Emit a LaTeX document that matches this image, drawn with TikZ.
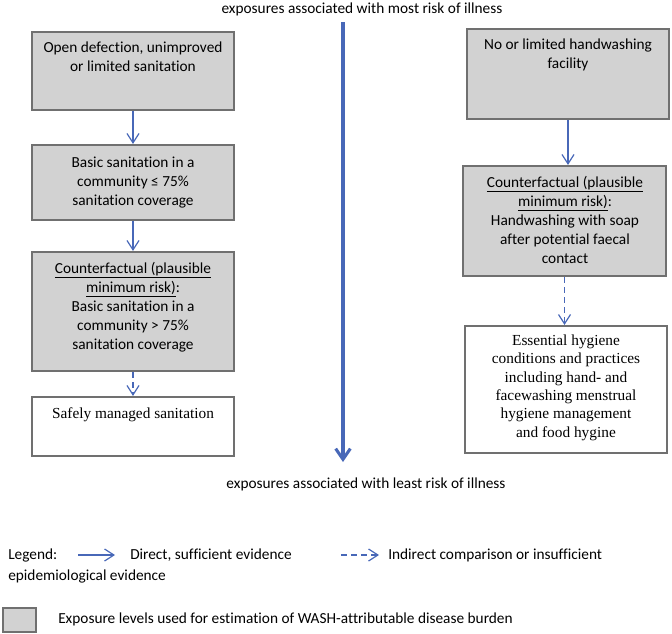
\documentclass[tikz,border=0pt]{standalone}
\usepackage{fontspec}
\setmainfont{Carlito}[Ligatures=NoCommon]
\newfontfamily\serifx{Liberation Serif}
\usetikzlibrary{arrows.meta,fit}
\definecolor{arrowblue}{RGB}{72,104,184}
\definecolor{boxgray}{RGB}{210,210,210}
\definecolor{edgegray}{RGB}{112,112,112}
\tikzset{
  graybox/.style={draw=edgegray, line width=1.6pt, fill=boxgray, inner sep=0pt},
  whitebox/.style={draw=edgegray, line width=1.6pt, fill=white, inner sep=0pt},
  sanstxt/.style={font=\fontsize{11.5}{14.25}\selectfont, align=center, anchor=base, inner sep=0pt},
  seriftxt/.style={font=\serifx\fontsize{11.5}{13.7}\selectfont, align=center, anchor=base, inner sep=0pt},
  plaintxt/.style={font=\fontsize{11.5}{14.25}\selectfont, anchor=base west, inner sep=0pt},
  solidarrow/.style={draw=arrowblue, line width=0.9pt, -{Straight Barb[length=7pt,width=9pt]}},
  dasharrow/.style={draw=arrowblue, line width=0.9pt, dash pattern=on 4.5pt off 3pt, -{Straight Barb[length=7pt,width=9pt]}},
  mainarrow/.style={draw=arrowblue, line width=2.3pt, -{Straight Barb[length=8pt,width=11pt]}},
}
\begin{document}
\begin{tikzpicture}[x=0.75pt,y=-0.75pt]
\useasboundingbox (0,0) rectangle (672,633);

% top / bottom labels
\node[sanstxt] (toplab) at (362,13) {exposures associated with most risk of illness};
\node[sanstxt] (botlab) at (366,488) {exposures associated with least risk of illness};

% central arrow
\coordinate (mtop) at (343,22);
\coordinate (mbot) at (343,462);
\draw[mainarrow] (mtop) -- (mbot);

% left column (text anchors are the baseline of the last line)
\node[graybox, fit={(32,32) (234,110)}] (b1) {};
\node[sanstxt] (b1t) at (133,71) {Open defection, unimproved\\or limited sanitation};
\node[graybox, fit={(32,145) (234,220)}] (b2) {};
\node[sanstxt] (b2t) at (133,205) {Basic sanitation in a\\community ≤ 75\%\\sanitation coverage};
\node[graybox, fit={(32,252) (234,371)}] (b3) {};
\node[sanstxt] (b3t) at (133,349) {\underline{Counterfactual (plausible}\\\underline{minimum risk)}:\\Basic sanitation in a\\community > 75\%\\sanitation coverage};
\node[whitebox, fit={(32,397) (234,456)}] (b4) {};
\node[seriftxt] (b4t) at (133,418) {Safely managed sanitation};

\draw[solidarrow] (b1.south) -- (b2.north);
\draw[solidarrow] (b2.south) -- (b3.north);
\draw[dasharrow] (b3.south) -- (b4.north);

% right column
\node[graybox, fit={(467,29) (669,119)}] (r1) {};
\node[sanstxt] (r1t) at (568,68) {No or limited handwashing\\facility};
\node[graybox, fit={(463,166) (666,276)}] (r2) {};
\node[sanstxt] (r2t) at (565,263) {\underline{Counterfactual (plausible}\\\underline{minimum risk)}:\\Handwashing with soap\\after potential faecal\\contact};
\node[whitebox, fit={(465,326) (667,453)}] (r3) {};
\node[seriftxt] (r3t) at (566,437) {Essential hygiene\\conditions and practices\\including hand- and\\facewashing menstrual\\hygiene management\\and food hygine};

\draw[solidarrow] (r1.south) -- (r1.south |- r2.north);
\draw[dasharrow] (r2.south) -- (r2.south |- r3.north);

% legend
\node[plaintxt] (leg) at (8,559) {Legend:};
\coordinate (l1a) at (78,555);
\coordinate (l1b) at (115,555);
\draw[solidarrow] (l1a) -- (l1b);
\node[plaintxt] (leg1) at (130,559) {Direct, sufficient evidence};
\coordinate (l2a) at (341,555);
\coordinate (l2b) at (379,555);
\draw[dasharrow] (l2a) -- (l2b);
\node[plaintxt] (leg2) at (388,559) {Indirect comparison or insufficient};
\node[plaintxt] (leg3) at (8,580) {epidemiological evidence};
\node[graybox, fit={(3,608) (36,632)}] (legbox) {};
\node[plaintxt] (leg4) at (58,623) {Exposure levels used for estimation of WASH-attributable disease burden};
\end{tikzpicture}
\end{document}
